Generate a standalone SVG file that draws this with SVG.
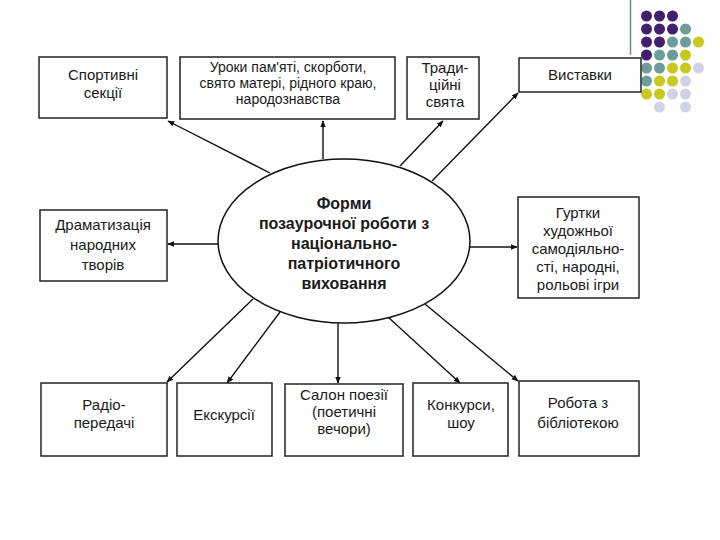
<svg xmlns="http://www.w3.org/2000/svg" width="720" height="540" viewBox="0 0 720 540">
<defs>
<marker id="ah" viewBox="0 0 10 10" refX="9" refY="5" markerWidth="7" markerHeight="7" orient="auto" markerUnits="userSpaceOnUse">
<path d="M0,1 L10,5 L0,9 z" fill="#111"/>
</marker>
<style>
.box{fill:#fff;stroke:#222;stroke-width:1.5}
.t{font-family:"Liberation Sans",Arial,sans-serif;font-size:15px;fill:#1a1a1a;text-anchor:middle}
.ts{font-size:14px}
.tb{font-family:"Liberation Sans",Arial,sans-serif;font-size:16px;font-weight:bold;fill:#1a1a1a;text-anchor:middle}
.c{stroke:#111;stroke-width:1.4;fill:none;marker-end:url(#ah)}
.p{fill:#3f1f6e}.g{fill:#6c9c9c}.y{fill:#c9c81c}.l{fill:#d2d2e6}
</style>
</defs>
<rect width="720" height="540" fill="#fff"/>
<g id="decor">
<line x1="630.5" y1="0" x2="630.5" y2="55" stroke="#5f9090" stroke-width="1.5"/>
<circle class="p" cx="646.5" cy="16" r="5.5"/><circle class="p" cx="659.5" cy="16" r="5.5"/><circle class="p" cx="672.5" cy="16" r="5.5"/>
<circle class="p" cx="646.5" cy="29" r="5.5"/><circle class="p" cx="659.5" cy="29" r="5.5"/><circle class="p" cx="672.5" cy="29" r="5.5"/><circle class="g" cx="685.5" cy="29" r="5.5"/>
<circle class="p" cx="646.5" cy="42" r="5.5"/><circle class="p" cx="659.5" cy="42" r="5.5"/><circle class="g" cx="672.5" cy="42" r="5.5"/><circle class="g" cx="685.5" cy="42" r="5.5"/><circle class="y" cx="698.5" cy="42" r="5.5"/>
<circle class="p" cx="646.5" cy="55" r="5.5"/><circle class="g" cx="659.5" cy="55" r="5.5"/><circle class="g" cx="672.5" cy="55" r="5.5"/><circle class="y" cx="685.5" cy="55" r="5.5"/>
<circle class="g" cx="646.5" cy="68" r="5.5"/><circle class="g" cx="659.5" cy="68" r="5.5"/><circle class="y" cx="672.5" cy="68" r="5.5"/><circle class="y" cx="685.5" cy="68" r="5.5"/><circle class="l" cx="698.5" cy="68" r="5.5"/>
<circle class="g" cx="646.5" cy="81" r="5.5"/><circle class="y" cx="659.5" cy="81" r="5.5"/><circle class="y" cx="672.5" cy="81" r="5.5"/><circle class="l" cx="685.5" cy="81" r="5.5"/>
<circle class="y" cx="646.5" cy="94" r="5.5"/><circle class="y" cx="659.5" cy="94" r="5.5"/><circle class="l" cx="672.5" cy="94" r="5.5"/><circle class="l" cx="685.5" cy="94" r="5.5"/>
<circle class="l" cx="659.5" cy="107" r="5.5"/><circle class="l" cx="685.5" cy="107" r="5.5"/>
</g>
<g id="connectors">
<line class="c" x1="270" y1="173" x2="168" y2="121"/>
<line class="c" x1="323" y1="159" x2="323" y2="121"/>
<line class="c" x1="400" y1="166" x2="443" y2="121"/>
<line class="c" x1="432" y1="181" x2="518" y2="93"/>
<line class="c" x1="218" y1="244" x2="168" y2="244"/>
<line class="c" x1="470" y1="247" x2="517" y2="247"/>
<line class="c" x1="253" y1="299" x2="167" y2="382"/>
<line class="c" x1="280" y1="312" x2="227" y2="383"/>
<line class="c" x1="338" y1="323" x2="338" y2="383"/>
<line class="c" x1="388" y1="317" x2="460" y2="383"/>
<line class="c" x1="425" y1="304" x2="518" y2="381"/>
</g>
<g id="center">
<ellipse cx="344" cy="241" rx="126" ry="82" fill="#fff" stroke="#111" stroke-width="1.5"/>
<text class="tb" x="344" y="209">Форми</text>
<text class="tb" x="344" y="229">позаурочної роботи з</text>
<text class="tb" x="344" y="249">національно-</text>
<text class="tb" x="344" y="269">патріотичного</text>
<text class="tb" x="344" y="289">виховання</text>
</g>
<g id="n-sport"><rect class="box" x="39" y="57" width="128" height="61"/>
<text class="t" x="103" y="80">Спортивні</text><text class="t" x="103" y="98">секції</text></g>
<g id="n-uroky"><rect class="box" x="180" y="57" width="215" height="62"/>
<text class="t ts" x="288" y="72">Уроки пам'яті, скорботи,</text><text class="t ts" x="288" y="88">свято матері, рідного краю,</text><text class="t ts" x="288" y="104">народознавства</text></g>
<g id="n-trad"><rect class="box" x="407" y="57" width="72" height="62"/>
<text class="t" x="445" y="73">Тради-</text><text class="t" x="445" y="90">ційні</text><text class="t" x="445" y="107">свята</text></g>
<g id="n-vyst"><rect class="box" x="519" y="58" width="122" height="34"/>
<text class="t" x="580" y="80">Виставки</text></g>
<g id="n-drama"><rect class="box" x="40" y="210" width="127" height="71"/>
<text class="t" x="103" y="230">Драматизація</text><text class="t" x="103" y="250">народних</text><text class="t" x="103" y="270">творів</text></g>
<g id="n-hurtky"><rect class="box" x="518" y="197" width="121" height="101"/>
<text class="t" x="578" y="218">Гуртки</text><text class="t" x="578" y="236">художньої</text><text class="t" x="578" y="254">самодіяльно-</text><text class="t" x="578" y="272">сті, народні,</text><text class="t" x="578" y="290">рольові ігри</text></g>
<g id="n-radio"><rect class="box" x="41" y="383" width="126" height="73"/>
<text class="t" x="104" y="410">Радіо-</text><text class="t" x="104" y="428">передачі</text></g>
<g id="n-ekskursii"><rect class="box" x="177" y="383" width="95" height="73"/>
<text class="t" x="224" y="420">Екскурсії</text></g>
<g id="n-salon"><rect class="box" x="285" y="384" width="118" height="72"/>
<text class="t" x="344" y="400">Салон поезії</text><text class="t" x="344" y="417">(поетичні</text><text class="t" x="344" y="434">вечори)</text></g>
<g id="n-konkursy"><rect class="box" x="413" y="383" width="95" height="73"/>
<text class="t" x="461" y="410">Конкурси,</text><text class="t" x="461" y="428">шоу</text></g>
<g id="n-robota"><rect class="box" x="519" y="381" width="120" height="75"/>
<text class="t" x="578" y="408">Робота з</text><text class="t" x="578" y="428">бібліотекою</text></g>
</svg>
